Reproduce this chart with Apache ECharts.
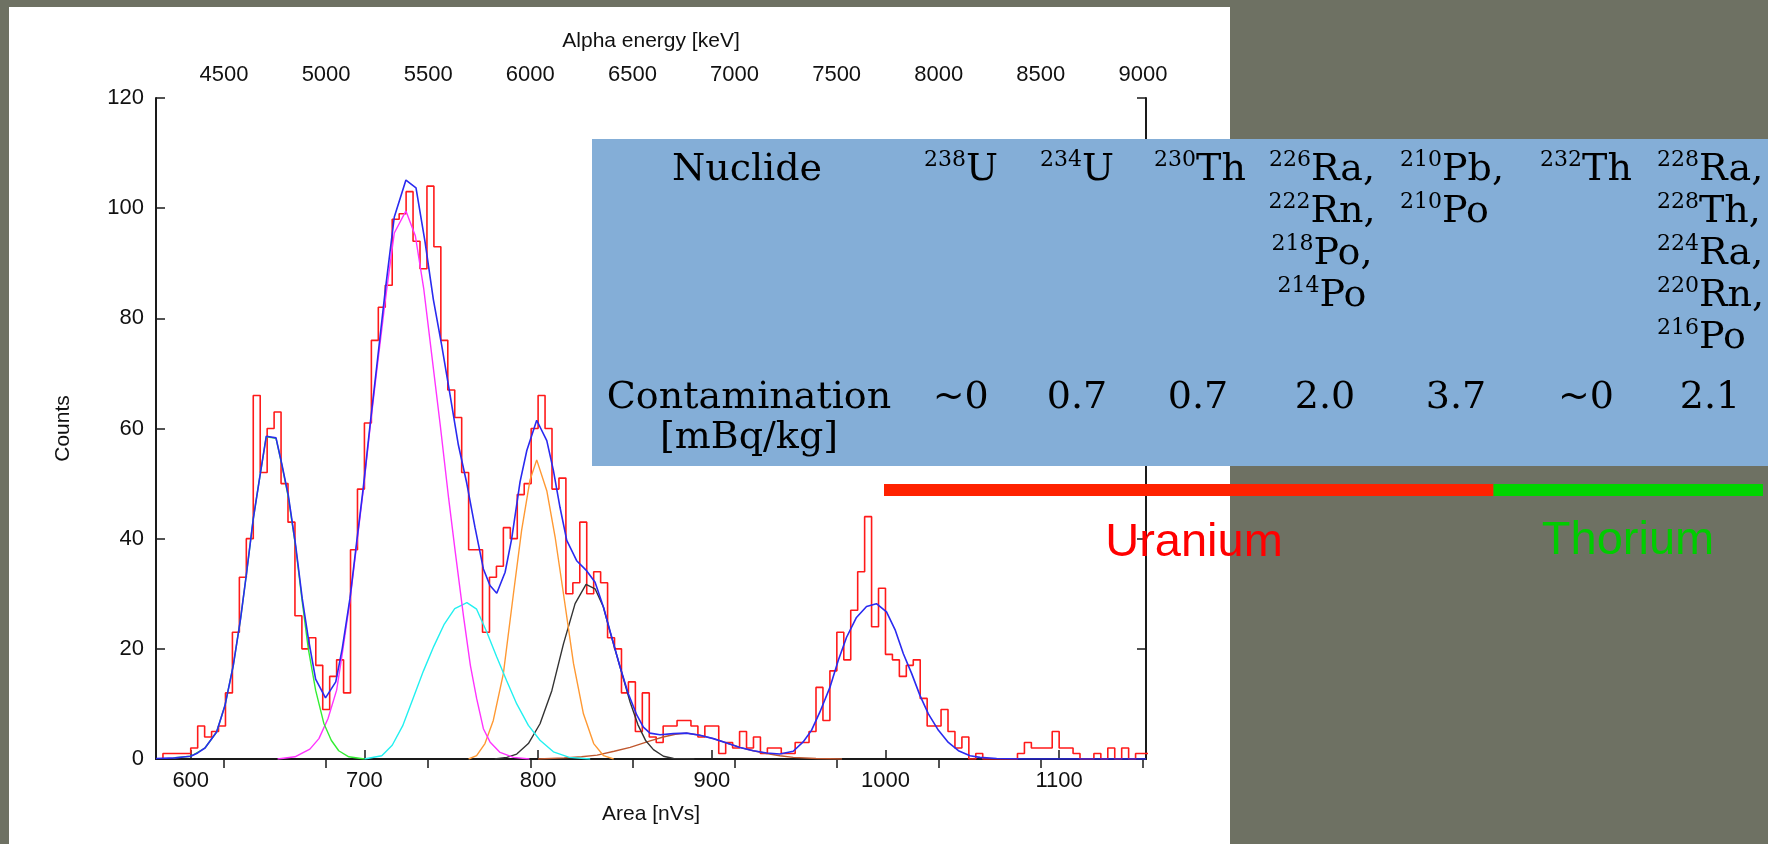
<!DOCTYPE html>
<html>
<head>
<meta charset="utf-8">
<script src="https://cdn.jsdelivr.net/npm/echarts@6/dist/echarts.min.js"></script>
<style>
html,body{margin:0;padding:0;background:#6e7163;}
#c{width:1768px;height:844px;}
</style>
</head>
<body>
<div id="c"></div>
<script>
// ---------------- DATA ----------------
const areaRange = [580, 1150];
const areaTicks = [600, 700, 800, 900, 1000, 1100];
const energyRange = [4167, 9015];
const energyTicks = [4500, 5000, 5500, 6000, 6500, 7000, 7500, 8000, 8500, 9000];
const countRange = [0, 120];

// histogram: bins of width 4 nVs starting at 584
const binStart = 584;
const binWidth = 4;
const counts = [
  1, 1, 1, 1, 2, 6, 4, 5, 6, 12,
  23, 33, 40, 66, 52, 60, 63, 50, 43, 26,
  20, 22, 17, 9, 15, 18, 12, 38, 49, 61,
  76, 82, 86, 98, 99, 103, 94, 89, 104, 93,
  76, 67, 62, 52, 38, 38, 23, 33, 35, 42,
  40, 48, 50, 60, 66, 60, 49, 51, 30, 32,
  43, 30, 34, 32, 22, 20, 12, 14, 5, 12,
  4, 3, 6, 6, 7, 7, 6, 4, 6, 6,
  1, 3, 2, 5, 2, 4, 1, 2, 2, 1,
  1, 3, 3, 5, 13, 7, 16, 23, 18, 27,
  34, 44, 24, 31, 19, 18, 15, 17, 18, 11,
  6, 6, 9, 5, 2, 4, 0, 1, 0, 0,
  0, 0, 0, 1, 3, 2, 2, 2, 5, 2,
  2, 1, 0, 0, 1, 0, 2, 0, 2, 0,
  1, 1
];

// total fit (blue)
const fitTotal = [
  [580,0.1],[591,0.2],[597,0.4],[600,0.5],[604,1.1],[608.2,2.0],[614.9,4.9],[619.7,9.7],
  [624.5,17.0],[628.7,25.5],[632.2,33.9],[636.0,43.6],[639.9,51.5],[643.5,58.6],[649.1,58.3],
  [652.4,53.6],[656.2,47.8],[660.4,38.8],[664.2,29.1],[667.7,21.9],[671.9,14.5],[677.6,11.1],
  [683.5,14.0],[687.2,20.0],[691.7,29.2],[695.5,39.3],[699.4,49.4],[703.2,60.5],[707.1,71.3],
  [711.9,84.8],[717.2,98.4],[723.9,105.1],[729.7,103.7],[734.9,93.9],[739.7,83.4],[744.5,75.1],
  [749.3,66.1],[754.1,57.0],[758.9,50.1],[763.7,42.0],[768.5,34.5],[772.3,31.5],[776.2,30.1],
  [781.0,33.9],[784.8,40.0],[789.6,50.3],[793.5,56.0],[799.2,61.5],[805.0,57.8],[808.8,52.4],
  [812.6,45.7],[816.5,39.7],[822.2,36.0],[827.6,34.3],[832.8,32.1],[837.6,27.6],[842.4,22.1],
  [847.2,16.7],[852.0,11.8],[856.8,8.0],[860.6,5.8],[864.4,4.7],[870.2,4.4],[877.9,4.6],
  [885.5,4.7],[893.2,4.3],[900.9,3.7],[908.6,2.9],[916.2,2.1],[923.9,1.5],[931.6,1.1],
  [939.2,0.9],[946.9,1.4],[952.6,3.1],[957.4,5.2],[962.2,8.5],[968.0,13.0],[972.8,17.9],
  [977.6,22.1],[983.3,25.7],[989.1,27.7],[994.8,28.2],[1000.6,26.7],[1005.5,23.5],[1010.3,19.1],
  [1015.1,15.5],[1019.9,11.5],[1024.7,8.2],[1030.5,5.2],[1036.2,3.0],[1042.0,1.5],[1048.7,0.6],
  [1054.4,0.3],[1064,0.1],[1080,0],[1150,0]
];

// fit components
const compGreen = [
  [590,0.2],[600,0.5],[608.2,2.0],[614.9,4.9],[619.7,9.7],[624.5,17.0],[628.7,25.5],[632.2,33.9],
  [636,43.6],[639.9,51.5],[643.5,58.5],[649.1,58.2],[652.4,53.5],[656.2,47.5],[660.4,38.5],
  [664.2,28.5],[667.7,20],[671.9,12.5],[676.6,6.5],[680.9,3.4],[685.2,1.5],[691,0.4],[700,0]
];
const compMagenta = [
  [650,0],[660,0.4],[668.6,1.8],[673.8,3.7],[679,7.3],[684,12.5],[687.2,19],[691.7,28.8],
  [695.5,38.8],[699.4,49],[703.2,60],[707.1,70.5],[711.9,83],[717.2,95.5],[723.9,99.5],
  [729.3,95],[734.1,85.5],[738.9,73],[743.7,60.5],[748.5,47.3],[752.3,37.6],[757.1,25.8],
  [761,17],[764.6,11],[768.5,5.5],[772.3,3.1],[778.1,1.2],[785.8,0.3],[795,0]
];
const compCyan = [
  [700,0],[710,0.6],[716,2.5],[722,6],[728,11],[734,16],[740,20.5],[746,24.5],[752,27.3],
  [759,28.4],[764.6,27.2],[770.5,23],[776.2,18.5],[781.9,14.2],[787.7,10],[794.4,6.1],
  [801.1,3.4],[808.8,1.3],[818,0.3],[830,0]
];
const compOrange = [
  [760,0],[764.6,0.6],[769.4,2.8],[774.2,7.0],[780,15.5],[785.8,30.0],[790.5,41.5],[795.3,50.6],
  [799.2,54.3],[805,48.7],[809.8,40.3],[814.6,30.0],[820.4,17.3],[826.1,8.2],[832,2.8],
  [837.7,0.6],[843.5,0]
];
const compBlack = [
  [775,0],[782,0.3],[787.7,0.9],[794.4,2.8],[801.1,6.4],[807.9,12.4],[814.6,20.9],[821.3,28.2],
  [827.6,31.7],[832.8,30.9],[837.6,27.6],[841.5,23],[847.2,16.7],[853,10.3],[857.5,6.2],
  [862,3.3],[866.4,1.7],[872.2,0.5],[878,0.1],[890,0]
];
const compBrown = [
  [800,0],[815,0.2],[825,0.4],[834,0.7],[843.8,1.4],[853,2.1],[864.5,3.3],[872,4.0],[879,4.5],
  [885.5,4.7],[893.2,4.3],[900.9,3.7],[908.6,2.9],[916.2,2.1],[923.9,1.5],[931.6,1.0],
  [939.2,0.6],[946.9,0.3],[960,0.1],[975,0]
];

// table content
const tableHeader = 'Nuclide';
const nuclides = [
  [['238','U']],
  [['234','U']],
  [['230','Th']],
  [['226','Ra,'],['222','Rn,'],['218','Po,'],['214','Po']],
  [['210','Pb,'],['210','Po']],
  [['232','Th']],
  [['228','Ra,'],['228','Th,'],['224','Ra,'],['220','Rn,'],['216','Po']]
];
const rowLabel = ['Contamination', '[mBq/kg]'];
const contamination = ['~0', '0.7', '0.7', '2.0', '3.7', '~0', '2.1'];
const chains = ['Uranium', 'Thorium'];

// ---------------- LAYOUT / STYLE ----------------
const SANS = 'Liberation Sans, Arial, Helvetica, sans-serif';
const SERIF = 'DejaVu Serif, serif';
const colX = [961, 1077, 1200, 1322, 1400, 1586, 1657];
const colAlign = ['center','center','center','center','left','center','left'];
const valX = [960.7, 1077, 1198, 1325, 1456, 1586, 1710];

const histData = [[binStart, 0]];
counts.forEach((c, i) => histData.push([binStart + i * binWidth, c]));
histData.push([binStart + counts.length * binWidth, counts[counts.length - 1]]);

const tickLabel = {color:'#111', fontSize:22, fontFamily:SANS};
const axLine = {show:true, lineStyle:{color:'#1a1a1a', width:2}};
const tick = {show:true, inside:true, length:9, lineStyle:{color:'#1a1a1a', width:1.5}};

const richNuc = {
  s:{fontFamily:SERIF, fontSize:22, lineHeight:22, verticalAlign:'top', color:'#000'},
  m:{fontFamily:SERIF, fontSize:38, lineHeight:42, color:'#000'}
};
const richVal = {
  m:{fontFamily:SERIF, fontSize:38, lineHeight:40, color:'#000'}
};

const graphic = [
  {type:'rect', z:-5, silent:true, shape:{x:9, y:7, width:1221, height:837}, style:{fill:'#ffffff'}},
  {type:'rect', z:50, silent:true, shape:{x:592, y:139, width:1176, height:327}, style:{fill:'#84aed7'}},
  {type:'rect', z:50, silent:true, shape:{x:884, y:484, width:609.5, height:12}, style:{fill:'#ff2200'}},
  {type:'rect', z:50, silent:true, shape:{x:1493.5, y:484, width:269.5, height:12}, style:{fill:'#00d400'}},
  {type:'text', z:60, x:747, y:149, style:{text:'{m|' + tableHeader + '}', rich:richNuc, align:'center', verticalAlign:'top'}},
  {type:'text', z:60, x:749, y:378, style:{text:rowLabel.map(t => '{m|' + t + '}').join('\n'), rich:richVal, align:'center', verticalAlign:'top'}},
  {type:'text', z:60, x:1194, y:543, style:{text:chains[0], fill:'#ff0000', fontSize:47, fontFamily:SANS, align:'center', verticalAlign:'middle'}},
  {type:'text', z:60, x:1628, y:541, style:{text:chains[1], fill:'#00cc00', fontSize:47, fontFamily:SANS, align:'center', verticalAlign:'middle'}}
];
nuclides.forEach((lines, i) => {
  graphic.push({type:'text', z:60, x:colX[i], y:149, style:{
    text: lines.map(l => '{s|' + l[0] + '}{m|' + l[1] + '}').join('\n'),
    rich: richNuc, align: colAlign[i], verticalAlign:'top'}});
});
contamination.forEach((v, i) => {
  graphic.push({type:'text', z:60, x:valX[i], y:378, style:{text:'{m|' + v + '}', rich:richVal, align:'center', verticalAlign:'top'}});
});

function lineSeries(data, color, width, z) {
  return {type:'line', data:data, symbol:'none', smooth:false, clip:true, z:z,
          lineStyle:{color:color, width:width}, emphasis:{disabled:true}};
}

const chart = echarts.init(document.getElementById('c'), null, {renderer:'canvas'});
chart.setOption({
  animation:false,
  backgroundColor:'#6e7163',
  grid:{left:156, top:98, right:622, bottom:85, containLabel:false, outerBoundsMode:'none'},
  xAxis:[
    {type:'value', position:'bottom', min:areaRange[0], max:areaRange[1], splitNumber:6,
     name:'Area [nVs]', nameLocation:'middle', nameGap:45,
     nameTextStyle:{color:'#111', fontSize:21, fontFamily:SANS},
     axisLine:axLine, axisTick:Object.assign({customValues:areaTicks}, tick), splitLine:{show:false},
     axisLabel:Object.assign({margin:11, customValues:areaTicks,
       formatter:v => (areaTicks.indexOf(v) >= 0 ? String(v) : '')}, tickLabel)},
    {type:'value', position:'top', min:energyRange[0], max:energyRange[1], splitNumber:10,
     name:'Alpha energy [keV]', nameLocation:'middle', nameGap:46,
     nameTextStyle:{color:'#111', fontSize:21, fontFamily:SANS},
     axisLine:axLine, axisTick:Object.assign({customValues:energyTicks}, tick), splitLine:{show:false},
     axisLabel:Object.assign({margin:12, customValues:energyTicks,
       formatter:v => (energyTicks.indexOf(v) >= 0 ? String(v) : '')}, tickLabel)}
  ],
  yAxis:[
    {type:'value', position:'left', min:countRange[0], max:countRange[1], interval:20,
     name:'Counts', nameLocation:'middle', nameGap:82,
     nameTextStyle:{color:'#111', fontSize:21, fontFamily:SANS},
     axisLine:axLine, axisTick:tick, splitLine:{show:false},
     axisLabel:Object.assign({margin:12}, tickLabel)},
    {type:'value', position:'right', min:countRange[0], max:countRange[1], interval:20,
     axisLine:axLine, axisTick:tick, splitLine:{show:false}, axisLabel:{show:false}}
  ],
  series:[
    Object.assign(lineSeries(histData, '#ff1a1a', 1.6, 2), {step:'end'}),
    lineSeries(compBrown, '#c0582f', 1.4, 3),
    lineSeries(compBlack, '#333333', 1.4, 3),
    lineSeries(compOrange, '#ff9933', 1.4, 3),
    lineSeries(compCyan, '#22f0f0', 1.4, 3),
    lineSeries(compMagenta, '#ff33ff', 1.4, 3),
    lineSeries(compGreen, '#33ee33', 1.4, 3),
    lineSeries(fitTotal, '#2a2af0', 1.6, 4)
  ],
  graphic: graphic
});
</script>
</body>
</html>
